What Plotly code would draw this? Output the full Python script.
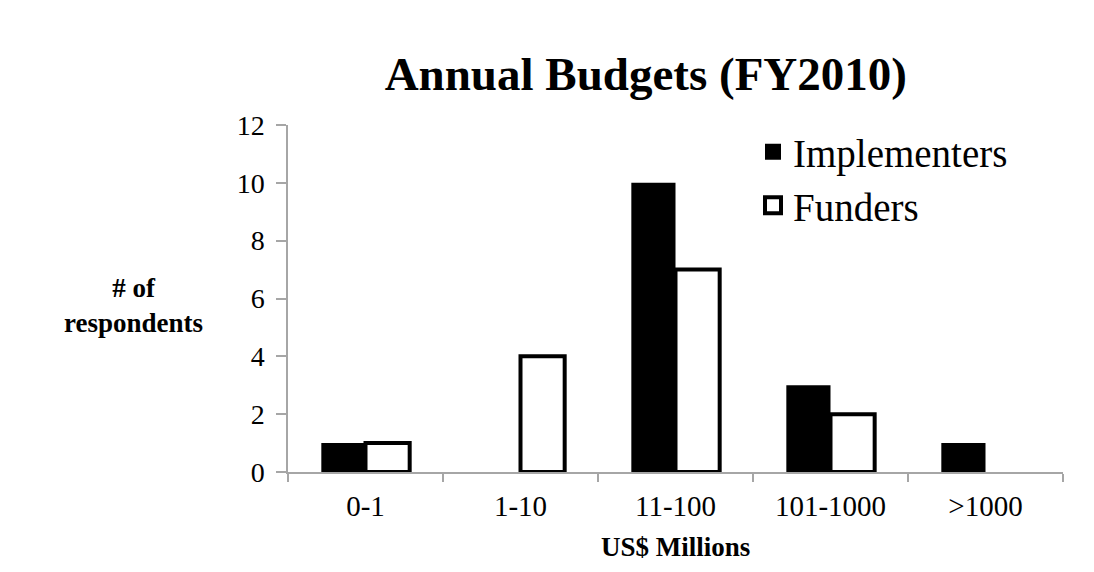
import plotly.graph_objects as go

categories = ["0-1", "1-10", "11-100", "101-1000", ">1000"]
implementers = [1, 0, 10, 3, 1]
funders = [1, 4, 7, 2, 0]
y_ticks = [0, 2, 4, 6, 8, 10, 12]

FONT = "Liberation Serif"

fig = go.Figure()
fig.add_trace(go.Bar(x=categories, y=implementers, name="Implementers",
                     marker=dict(color="black", line=dict(color="black", width=0)),
                     showlegend=False))
fig.add_trace(go.Bar(x=categories, y=funders, name="Funders",
                     marker=dict(color="white",
                                 line=dict(color="black",
                                           width=[4 if v > 0 else 0 for v in funders])),
                     showlegend=False))
# legend entries
fig.add_trace(go.Scatter(x=[None], y=[None], mode="markers", name="Implementers",
                         marker=dict(symbol="square", size=19, color="black",
                                     line=dict(color="black", width=0))))
fig.add_trace(go.Scatter(x=[None], y=[None], mode="markers", name="Funders",
                         marker=dict(symbol="square", size=16, color="white",
                                     line=dict(color="black", width=4))))

fig.update_layout(
    width=1094, height=572,
    margin=dict(l=280, r=39, t=117, b=108),
    paper_bgcolor="white", plot_bgcolor="white",
    font=dict(family=FONT, color="black", size=28),
    barmode="group", bargap=0.43, bargroupgap=0,
    title=dict(text="<b>Annual Budgets (FY2010)</b>", x=0.583, xanchor="center",
               y=0.886, yanchor="middle", font=dict(size=47, family=FONT)),
    legend=dict(x=0.6, y=1.015, xanchor="left", yanchor="top",
                font=dict(size=39, family=FONT), bgcolor="rgba(0,0,0,0)",
                itemwidth=30, tracegroupgap=0),
    xaxis=dict(type="category", showline=True, linecolor="#a6a6a6", linewidth=1.5,
               ticks="outside", tickson="boundaries", ticklen=8, tickcolor="#a6a6a6",
               tickwidth=1.5, showgrid=False, tickfont=dict(size=29),
               ticklabelstandoff=7),
    yaxis=dict(range=[0, 12], tickvals=y_ticks, showline=True, linecolor="#a6a6a6",
               linewidth=1.5, ticks="outside", ticklen=10, tickcolor="#a6a6a6",
               tickwidth=1.5, showgrid=False, zeroline=False, tickfont=dict(size=28),
               ticklabelstandoff=6),
)
fig.add_annotation(text="<b>US$ Millions</b>", xref="paper", yref="paper",
                   x=0.5, y=-0.216, xanchor="center", yanchor="middle",
                   showarrow=False, font=dict(size=27, family=FONT))
fig.add_annotation(text="<b># of<br>respondents</b>", xref="paper", yref="paper",
                   x=-0.199, y=0.481, xanchor="center", yanchor="middle",
                   showarrow=False, font=dict(size=27, family=FONT))

fig.write_html("out.html")
